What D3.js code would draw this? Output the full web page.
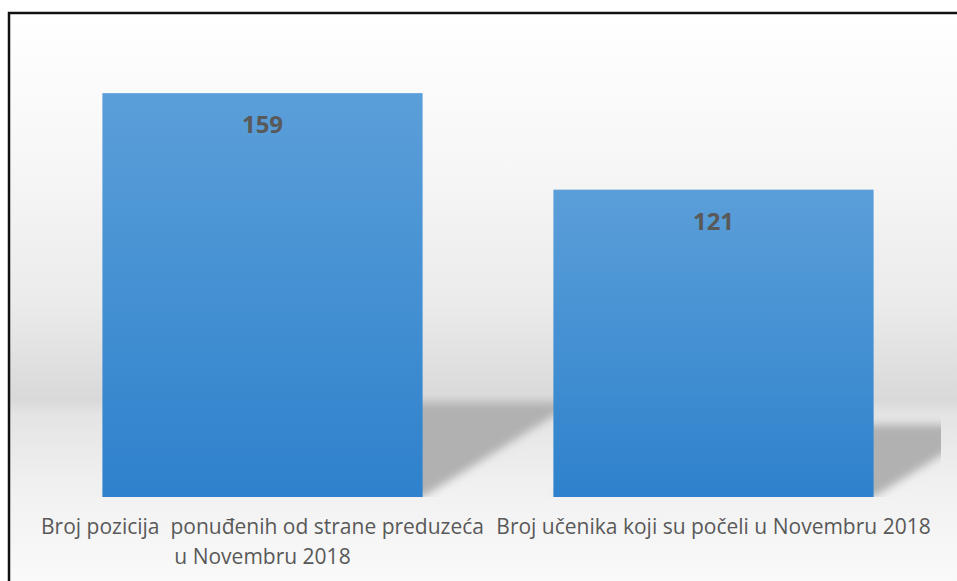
<!DOCTYPE html>
<html>
<head>
<meta charset="utf-8">
<script src="https://cdn.jsdelivr.net/npm/d3@7"></script>
<style>
  body { margin: 0; background: #fff; }
  svg { display: block; }
</style>
</head>
<body>
<div id="chart"></div>
<script>
// chart data
var categories = [
    ["Broj pozicija  ponuđenih od strane preduzeća", "u Novembru 2018"],
    ["Broj učenika koji su počeli u Novembru 2018"]
];
var values = [159, 121];

var width = 957, height = 581;
var base = 497;

var svg = d3.select("#chart")
    .append("svg")
    .attr("width", width)
    .attr("height", height);

var defs = svg.append("defs");

// background: white at top, grey "floor" band near the base line
var bg = defs.append("linearGradient")
    .attr("id", "bgGrad")
    .attr("x1", 0).attr("y1", 0).attr("x2", 0).attr("y2", 1);
bg.append("stop").attr("offset", "0%").attr("stop-color", "#ffffff");
bg.append("stop").attr("offset", "25%").attr("stop-color", "#f7f7f7");
bg.append("stop").attr("offset", "50%").attr("stop-color", "#ebebeb");
bg.append("stop").attr("offset", "66.5%").attr("stop-color", "#d9d9d9");
bg.append("stop").attr("offset", "69%").attr("stop-color", "#e4e4e4");
bg.append("stop").attr("offset", "82%").attr("stop-color", "#f1f1f1");
bg.append("stop").attr("offset", "100%").attr("stop-color", "#fbfbfb");

var barGrad = defs.append("linearGradient")
    .attr("id", "barGrad")
    .attr("x1", 0).attr("y1", 0).attr("x2", 0).attr("y2", 1);
barGrad.append("stop").attr("offset", "0%").attr("stop-color", "#5b9fd9");
barGrad.append("stop").attr("offset", "100%").attr("stop-color", "#2e81cc");

defs.append("filter")
    .attr("id", "blur")
    .attr("x", "-20%").attr("y", "-20%").attr("width", "140%").attr("height", "140%")
    .append("feGaussianBlur")
    .attr("stdDeviation", 4);

defs.append("clipPath")
    .attr("id", "plotClip")
    .append("rect")
    .attr("x", 10).attr("y", 14)
    .attr("width", 931).attr("height", base - 14);

svg.append("rect")
    .attr("x", 9).attr("y", 13)
    .attr("width", width).attr("height", height)
    .attr("fill", "url(#bgGrad)")
    .attr("stroke", "#111")
    .attr("stroke-width", 2.5);

var x = d3.scaleBand()
    .domain(d3.range(values.length))
    .range([37, 939])
    .paddingInner(0.29)
    .paddingOuter(0.145);

var y = d3.scaleLinear()
    .domain([0, 180])
    .range([base, base - 180 * 2.54]);

// perspective shadows behind the bars
var shadows = svg.append("g").attr("clip-path", "url(#plotClip)");
shadows.selectAll("polygon")
    .data(values)
    .enter()
    .append("polygon")
    .attr("points", function(d, i) {
        var h = y(0) - y(d);
        var sh = h * 0.235;
        var dx = sh / 0.62;
        var x0 = x(i), x1 = x(i) + x.bandwidth();
        return [[x0, base], [x1, base], [x1 + dx, base - sh], [x0 + dx, base - sh]]
            .map(function(p) { return p.join(","); }).join(" ");
    })
    .attr("fill", "#b1b1b1")
    .attr("filter", "url(#blur)");

svg.selectAll("rect.bar")
    .data(values)
    .enter()
    .append("rect")
    .attr("class", "bar")
    .attr("x", function(d, i) { return x(i); })
    .attr("y", function(d) { return y(d); })
    .attr("width", x.bandwidth())
    .attr("height", function(d) { return y(0) - y(d); })
    .attr("fill", "url(#barGrad)");

svg.selectAll("text.value")
    .data(values)
    .enter()
    .append("text")
    .attr("class", "value")
    .attr("x", function(d, i) { return x(i) + x.bandwidth() / 2; })
    .attr("y", function(d) { return y(d) + 40; })
    .attr("text-anchor", "middle")
    .attr("font-family", "'Open Sans', sans-serif")
    .attr("font-weight", "bold")
    .attr("font-size", 24)
    .attr("fill", "#595959")
    .text(function(d) { return d; });

var labels = svg.selectAll("text.cat")
    .data(categories)
    .enter()
    .append("text")
    .attr("class", "cat")
    .attr("text-anchor", "middle")
    .attr("font-family", "'Open Sans', sans-serif")
    .attr("font-size", 21)
    .attr("fill", "#595959")
    .attr("xml:space", "preserve")
    .style("white-space", "pre");

labels.each(function(lines, i) {
    var t = d3.select(this);
    for (var k = 0; k < lines.length; k++) {
        t.append("tspan")
            .attr("x", x(i) + x.bandwidth() / 2)
            .attr("y", 534 + k * 30)
            .text(lines[k]);
    }
});
</script>
</body>
</html>
